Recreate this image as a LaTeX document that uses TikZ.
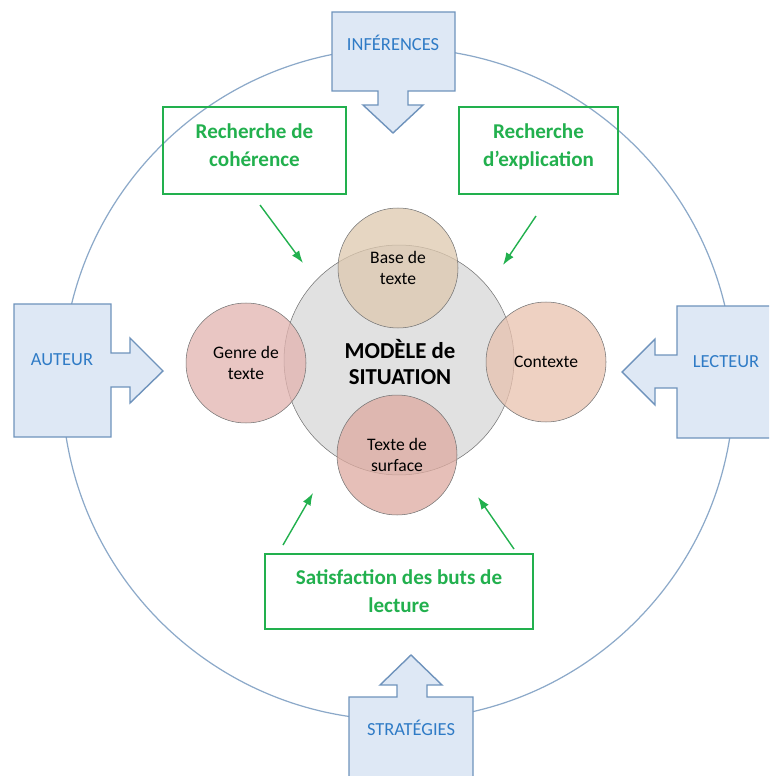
\documentclass[tikz,border=0pt]{standalone}
\usepackage{fontspec}
\setmainfont{Carlito}
\usetikzlibrary{arrows.meta}

\definecolor{fondbleu}{HTML}{DEE8F5}
\definecolor{traitbleu}{HTML}{6F93BC}
\definecolor{textebleu}{HTML}{2F7BC6}
\definecolor{vert}{HTML}{22B04E}
\definecolor{gris}{HTML}{D9D9D9}
\definecolor{beige}{HTML}{DDC8AE}
\definecolor{rose}{HTML}{E2B3AF}
\definecolor{saumon}{HTML}{E8C1AE}
\definecolor{vieuxrose}{HTML}{DDAAA0}

\begin{document}
\begin{tikzpicture}[x=0.02cm, y=-0.02cm,
    bloc/.style={draw=traitbleu, fill=fondbleu, line width=0.8pt},
    bleu/.style={text=textebleu, font=\fontsize{10.5}{12}\selectfont},
    vertbox/.style={draw=vert, line width=0.8pt, text=vert, align=center,
      font=\bfseries\fontsize{12}{16}\selectfont},
    rond/.style={circle, draw=black!55, line width=0.3pt, fill opacity=0.75,
      text opacity=1, minimum size=2.4cm, align=center,
      font=\fontsize{10}{11.5}\selectfont},
    fleche/.style={draw=vert, line width=0.8pt, -{Latex[length=7pt,width=5pt]}}]
  \useasboundingbox (0,0) rectangle (769,776);
  \clip (0,0) rectangle (769,776);

  \draw[traitbleu!80, line width=0.7pt] (398,384) circle[radius=336];

  % blocs bleus
  \draw[bloc] (332,12) -- (455,12) -- (455,91) -- (408,91) -- (408,105) -- (423,105)
    -- (393,133) -- (363,105) -- (378,105) -- (378,91) -- (332,91) -- cycle;
  \draw[bloc] (14,304) -- (111,304) -- (111,353) -- (130,353) -- (130,338)
    -- (163,371) -- (130,403) -- (130,387) -- (111,387) -- (111,437) -- (14,437) -- cycle;
  \draw[bloc] (780,306) -- (677,306) -- (677,355) -- (655,355) -- (655,339)
    -- (622,372) -- (655,405) -- (655,388) -- (677,388) -- (677,438) -- (780,438) -- cycle;
  \draw[bloc] (349,790) -- (349,697) -- (397,697) -- (397,685) -- (380,685)
    -- (411,655) -- (442,685) -- (427,685) -- (427,697) -- (473,697) -- (473,790) -- cycle;

  \node[bleu] (inf) at (393,43) {INFÉRENCES};
  \node[bleu] (aut) at (62,360) {AUTEUR};
  \node[bleu] (lec) at (726,362) {LECTEUR};
  \node[bleu] (strat) at (411,728) {STRATÉGIES};

  % cercles
  \node[circle, draw=black!55, line width=0.3pt, fill=gris, fill opacity=0.8,
    minimum size=4.6cm] (M) at (399,360) {};
  \node[rond, fill=beige] (base) at (398,268) {Base de\\texte};
  \node[rond, fill=rose] (genre) at (246,363) {Genre de\\texte};
  \node[rond, fill=saumon] (ctx) at (546,362) {Contexte};
  \node[rond, fill=vieuxrose] (surf) at (397,455) {Texte de\\surface};
  \node[align=center, font=\bfseries\fontsize{13}{14.7}\selectfont] (mds) at (400,362)
    {MODÈLE de\\SITUATION};

  \node[vertbox, text depth=6pt, minimum width=3.66cm, minimum height=1.74cm] (coh)
    at (254.5,150.5) {Recherche de\\cohérence};
  \node[vertbox, text depth=6pt, minimum width=3.18cm, minimum height=1.74cm] (expl)
    at (538.5,150.5) {Recherche\\d’explication};
  \node[vertbox, minimum width=5.36cm, minimum height=1.5cm] (buts) at (399,591.5)
    {Satisfaction des buts de\\lecture};

  \coordinate (a1) at (260,205);
  \coordinate (b1) at (303,263);
  \coordinate (a2) at (536,216);
  \coordinate (b2) at (503,265);
  \coordinate (a3) at (283,545);
  \coordinate (b3) at (313,493);
  \coordinate (a4) at (514,549);
  \coordinate (b4) at (478,497);
  \draw[fleche] (a1) -- (b1);
  \draw[fleche] (a2) -- (b2);
  \draw[fleche] (a3) -- (b3);
  \draw[fleche] (a4) -- (b4);
\end{tikzpicture}
\end{document}
